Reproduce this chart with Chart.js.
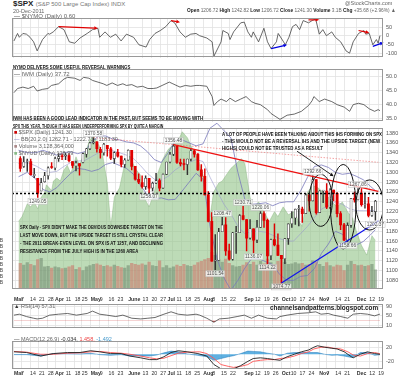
<!DOCTYPE html>
<html>
<head>
<meta charset="utf-8">
<script src="https://cdn.jsdelivr.net/npm/chart.js@4.4.1/dist/chart.umd.min.js"></script>
<style>
  body { margin: 0; width: 400px; height: 377px; overflow: hidden; background: #fff; position: relative; font-family: 'Liberation Sans', Arial, sans-serif; }
  canvas { position: absolute; left: 0; }
  .t { position: absolute; white-space: nowrap; transform-origin: 0 0; line-height: 1; }
  .note { font-weight: bold; font-size: 6px; color: #111; }
  .leg { font-size: 6px; color: #666; }
  .hd b { color: #222; }
</style>
</head>
<body>
<canvas id="nymo" width="400" height="52" style="top:12px"></canvas>
<canvas id="iwm" width="400" height="65" style="top:63px"></canvas>
<canvas id="spx" width="400" height="191" style="top:104px"></canvas>
<canvas id="rsi" width="400" height="38" style="top:296px"></canvas>
<canvas id="macd" width="400" height="42" style="top:335px"></canvas>

<div class="t" style="left:13px;top:0px;font-size:8px;font-weight:bold;color:#222">$SPX <span style="font-size:6px;font-weight:normal;color:#777">(S&amp;P 500 Large Cap Index) INDX</span></div>
<div class="t leg" style="left:13px;top:9px;font-size:5.5px">20-Dec-2011</div>
<div class="t leg" style="left:345px;top:1px;font-size:5.5px">@StockCharts.com</div>
<div class="t leg hd" style="left:187px;top:7px" data-w="209"><b>Open</b> 1206.72 <b>High</b> 1242.82 <b>Low</b> 1206.72 <b>Close</b> 1241.30 <b>Volume</b> 3.1B <b>Chg</b> +35.68 (+2.96%) ▲</div>

<div class="t leg" style="left:14px;top:13px"><span style="color:#333">—</span> $NYMO (Daily) 0.60</div>
<div class="t note" style="left:13px;top:64px" data-w="117">NYMO DELIVERS SOME USEFUL REVERSAL WARNINGS</div>
<div class="t leg" style="left:14px;top:71px"><span style="color:#333">—</span> IWM (Daily) 37.72</div>
<div class="t note" style="left:13px;top:115px" data-w="190">IWM HAS BEEN A GOOD LEAD INDICATOR IN THE PAST, BUT SEEMS TO BE MOVING WITH</div>
<div class="t note" style="left:13px;top:123px" data-w="150">SPX THIS YEAR, THOUGH IT HAS BEEN UNDERPERFORMING SPX BY QUITE A MARGIN</div>

<div class="t leg" style="left:14px;top:130px;font-size:5.5px"><span style="color:#c00">■</span> $SPX (Daily) 1241.30</div>
<div class="t leg" style="left:14px;top:137px;font-size:5.5px"><span style="color:#77b">—</span> BB(20,2.0) 1262.71 - 1222.71 - 1183.30</div>
<div class="t leg" style="left:14px;top:144px;font-size:5.5px"><span style="color:#a88">■</span> Volume 3,128,364,000</div>
<div class="t leg" style="left:14px;top:151px;font-size:5.5px"><span style="color:#8b8">■</span> $NYUD (Daily) 128.99</div>

<div class="t note" style="left:222px;top:131px" data-w="160">A LOT OF PEOPLE HAVE BEEN TALKING ABOUT THIS IHS FORMING ON SPX</div>
<div class="t note" style="left:222px;top:138px" data-w="158">- THIS WOULD NOT BE A REVERSAL IHS AND THE UPSIDE TARGET (NEW</div>
<div class="t note" style="left:222px;top:145px" data-w="101">HIGHS) COULD NOT BE TRUSTED AS A RESULT</div>

<div class="t note" style="left:20px;top:224px" data-w="143">SPX Daily - SPX DIDN'T MAKE THE OBVIOUS DOWNSIDE TARGET ON THE</div>
<div class="t note" style="left:20px;top:232px" data-w="143">LAST MOVE DOWN, BUT THE UPSIDE TARGET IS STILL CRYSTAL CLEAR</div>
<div class="t note" style="left:20px;top:240px" data-w="143">- THE 2011 BREAK-EVEN LEVEL ON SPX IS AT 1257, AND DECLINING</div>
<div class="t note" style="left:20px;top:248px" data-w="118">RESISTANCE FROM THE JULY HIGH IS IN THE 1260 AREA</div>

<div class="t leg" style="left:14px;top:304px;font-size:5.5px"><span style="color:#333">▲</span> RSI(14) 57.31</div>
<div class="t" style="left:270px;top:304px;font-size:8px;font-weight:bold;color:#222" data-w="108">channelsandpatterns.blogspot.com</div>
<div class="t leg" style="left:14px;top:337px;font-size:5.5px"><span style="color:#333">—</span> MACD(12,26,9) <span style="color:#333">-0.034,</span> <span style="color:#e44">1.458,</span> <span style="color:#49c">-1.492</span></div>

<script>
// Time axis: trading-day index counted from 1 Mar 2011
const tickDays = [0, 4, 9, 14, 19, 23, 29, 34, 38, 43, 48, 53, 58, 64, 72, 77, 82, 86, 91, 96, 101,
  106, 111, 116, 121, 129, 135, 140, 145, 150, 155, 160, 165, 171, 175, 180, 185, 192, 199, 204];
const tickLabels = ['Mar', '7', '14', '21', '28', 'Apr', '11', '18', '25', 'May', '9', '16', '23',
  'June', '13', '20', '27', 'Jul', '11', '18', '25', 'Aug', '8', '15', '22', 'Sep', '12', '19', '26',
  'Oct', '10', '17', '24', 'Nov', '7', '14', '21', 'Dec', '12', '19'];

// SPX two-day candles
const barDays = [1, 3, 5, 7, 9, 11, 13, 15, 17, 19, 21, 23, 25, 27, 29, 31, 33, 35, 37, 39, 41,
  43, 45, 47, 49, 51, 53, 55, 57, 59, 61, 63, 65, 67, 69, 71, 73, 75, 77, 79, 81, 83, 85,
  87, 89, 91, 93, 95, 97, 99, 101, 103, 105, 107, 109, 111, 113, 115, 117, 119, 121, 123, 125, 127,
  129, 131, 133, 135, 137, 139, 141, 143, 145, 147, 149, 151, 153, 155, 157, 159, 161, 163, 165, 167, 169,
  171, 173, 175, 177, 179, 181, 183, 185, 187, 189, 191, 193, 195, 197, 199, 201, 203, 205];
const spxOpen = [1328, 1312, 1322, 1322, 1293, 1288, 1262, 1281, 1293, 1311, 1309,
  1328, 1333, 1333, 1334, 1322, 1313, 1318, 1320, 1337, 1348,
  1360, 1362, 1347, 1340, 1355, 1348, 1328, 1341, 1333, 1316, 1325,
  1345, 1312, 1286, 1279, 1271, 1288, 1268, 1278, 1283, 1268, 1296,
  1321, 1337, 1353, 1320, 1317, 1316, 1327, 1344, 1337, 1305,
  1292, 1254, 1200, 1119, 1121, 1179, 1193, 1140, 1123, 1177, 1177,
  1212, 1204, 1166, 1185, 1162, 1188, 1216, 1202, 1130, 1163, 1152,
  1131, 1124, 1165, 1195, 1207, 1225, 1225, 1216, 1254, 1242,
  1285, 1218, 1262, 1262, 1229, 1264, 1257, 1216, 1193, 1162, 1192,
  1247, 1244, 1258, 1234, 1236, 1212, 1220];
const spxHigh = [1332, 1332, 1327, 1327, 1308, 1288, 1288, 1300, 1311, 1320, 1331,
  1338, 1337, 1339, 1338, 1322, 1323, 1318, 1339, 1349, 1361,
  1370.58, 1362, 1351, 1359, 1355, 1351, 1342, 1347, 1333, 1328, 1346,
  1345, 1312, 1297, 1293, 1293, 1288, 1280, 1298, 1287, 1297, 1321,
  1341, 1356.48, 1353, 1327, 1327, 1327, 1347, 1347, 1338, 1316,
  1307, 1261, 1218, 1173, 1186, 1208.47, 1208, 1154, 1178, 1190, 1214,
  1230.71, 1204, 1204, 1185, 1202, 1220.06, 1220, 1205, 1164, 1195, 1175,
  1131, 1165, 1195, 1220, 1225, 1233, 1229, 1256, 1254, 1292.66,
  1285, 1263, 1263, 1277, 1267, 1264, 1259, 1220, 1196, 1197, 1247,
  1260, 1267.06, 1267, 1258, 1249, 1231, 1243];
const spxLow = [1302, 1310, 1302, 1294, 1289, 1249.05, 1262, 1280, 1286, 1308, 1305,
  1322, 1326, 1326, 1321, 1309, 1303, 1294, 1319, 1331, 1346,
  1358, 1341, 1329, 1335, 1333, 1326, 1318, 1331, 1311, 1310, 1325,
  1305, 1284, 1277, 1268, 1265, 1258.07, 1262, 1277, 1262, 1267, 1296,
  1319, 1334, 1318, 1313, 1305, 1295, 1323, 1331, 1304, 1282,
  1254, 1199, 1119, 1101.54, 1121, 1179, 1131, 1121, 1121, 1135, 1177,
  1203, 1140, 1164, 1136.07, 1157, 1188, 1188, 1114.22, 1122, 1150, 1131,
  1074.77, 1114, 1153, 1188, 1194, 1191, 1198, 1216, 1221, 1242,
  1215, 1218, 1238, 1226, 1226, 1242, 1209, 1183, 1161, 1158.66, 1188,
  1239, 1244, 1231, 1227, 1209, 1210, 1202.37];
const spxClose = [1308, 1321, 1322, 1295, 1296, 1257, 1279, 1293, 1309, 1310, 1328,
  1332, 1332, 1333, 1324, 1314, 1319, 1313, 1338, 1348, 1360,
  1361, 1348, 1340, 1357, 1348, 1329, 1340, 1333, 1316, 1325, 1345,
  1312, 1286, 1280, 1271, 1288, 1268, 1278, 1283, 1268, 1296, 1321,
  1337, 1353, 1320, 1317, 1316, 1327, 1344, 1337, 1305, 1292,
  1254, 1200, 1119, 1121, 1179, 1193, 1140, 1123, 1177, 1177, 1212,
  1204, 1166, 1185, 1162, 1188, 1216, 1202, 1130, 1163, 1152, 1131,
  1124, 1165, 1195, 1207, 1225, 1225, 1216, 1254, 1242, 1285,
  1218, 1262, 1262, 1229, 1264, 1257, 1216, 1193, 1162, 1192, 1247,
  1244, 1258, 1234, 1236, 1212, 1220, 1241.30];
// volume, billions of shares
const spxVolume = [4.2, 3.9, 4.3, 4.0, 3.8, 4.8, 5.0, 3.6, 3.7, 3.4, 3.6,
  3.5, 3.3, 3.4, 3.6, 3.8, 3.2, 3.5, 3.0, 3.6, 3.8,
  4.0, 4.1, 3.9, 3.7, 3.8, 3.6, 3.9, 3.7, 3.5, 3.4, 3.8,
  4.2, 4.0, 3.9, 4.1, 3.9, 4.4, 3.8, 3.7, 4.6, 3.5, 3.8,
  3.4, 3.6, 3.9, 3.7, 4.0, 3.8, 3.7, 3.9, 4.3, 4.5,
  4.8, 5.0, 6.0, 5.5, 4.8, 4.4, 4.9, 4.2, 3.8, 3.6, 3.7,
  3.9, 4.3, 4.0, 4.4, 3.9, 4.5, 4.1, 4.9, 4.3, 4.0, 4.5,
  5.0, 4.4, 4.0, 4.1, 4.3, 4.1, 4.2, 3.9, 4.0, 4.6,
  4.4, 4.0, 3.7, 4.3, 3.8, 3.6, 3.9, 3.8, 3.0, 3.9, 4.5,
  4.0, 3.8, 3.9, 3.7, 3.8, 4.0, 3.1];

// Bollinger bands (20, 2.0)
const bbDays = [0, 5, 10, 14, 18, 22, 26, 30, 34, 38, 42, 46, 50, 54, 58, 62, 66, 70, 74, 78, 82, 86,
  90, 94, 98, 102, 106, 110, 114, 118, 122, 126, 130, 134, 138, 142, 146, 150, 154, 158, 162, 166,
  170, 174, 178, 182, 186, 190, 194, 198, 202, 205];
const bbUpper = [1345, 1340, 1340, 1345, 1340, 1335, 1340, 1342, 1338, 1342, 1362, 1374, 1374, 1368,
  1366, 1362, 1360, 1354, 1342, 1326, 1320, 1340, 1365, 1366, 1360, 1354, 1358, 1390, 1400, 1385,
  1370, 1300, 1245, 1235, 1236, 1238, 1232, 1238, 1240, 1240, 1262, 1290, 1312, 1315, 1310, 1300,
  1296, 1298, 1292, 1285, 1272, 1262.71];
const bbMid = [1318, 1320, 1313, 1305, 1300, 1302, 1312, 1320, 1323, 1324, 1332, 1340, 1345, 1344,
  1340, 1335, 1328, 1314, 1298, 1286, 1284, 1292, 1305, 1314, 1320, 1326, 1322, 1290, 1262, 1235,
  1215, 1190, 1175, 1180, 1180, 1178, 1172, 1165, 1160, 1160, 1175, 1190, 1208, 1225, 1232, 1240,
  1235, 1226, 1222, 1222, 1222, 1222.71];
const bbLower = [1291, 1300, 1286, 1265, 1260, 1269, 1284, 1298, 1308, 1306, 1302, 1306, 1316, 1320,
  1314, 1308, 1296, 1274, 1254, 1246, 1248, 1244, 1245, 1262, 1280, 1298, 1286, 1190, 1124, 1085,
  1060, 1080, 1105, 1125, 1124, 1118, 1112, 1092, 1080, 1080, 1088, 1090, 1104, 1135, 1154, 1180,
  1174, 1154, 1152, 1159, 1172, 1183.30];

// green breadth area behind price
const breadthDays = [0, 2, 5, 7, 9, 11, 13, 15, 16, 19, 20, 22, 24, 26, 28, 30, 31, 33, 35, 37, 39, 41,
  43, 46, 48, 51, 53, 55, 58, 61, 64, 67, 70, 72, 75, 78, 80, 83, 86, 89, 92, 94, 97, 100, 103, 106,
  108, 110, 112, 115, 117, 120, 122, 125, 128, 130, 133, 135, 138, 141, 144, 147, 149, 152, 155, 158,
  161, 163, 166, 169, 172, 175, 178, 180, 183, 186, 189, 192, 194, 197, 200, 203, 205];
const breadthVals = [180, 193, 227, 219, 232, 214, 245, 258, 278, 263, 288, 296, 288, 317, 330, 309,
  322, 353, 330, 355, 373, 399, 407, 386, 366, 283, 167, 245, 270, 335, 355, 322, 304, 245, 219, 258,
  309, 348, 373, 386, 399, 420, 404, 373, 348, 304, 245, 193, 258, 283, 288, 309, 322, 335, 348, 335,
  245, 219, 232, 206, 180, 206, 193, 219, 198, 206, 180, 167, 258, 276, 270, 258, 245, 232, 219, 232,
  206, 188, 155, 116, 90, 142, 128.99];

// $NYMO
const nymoDays = [0, 2, 3, 5, 7, 9, 11, 13, 16, 19, 20, 22, 25, 28, 31, 34, 37, 41, 44, 47, 48, 51, 54,
  57, 60, 63, 67, 70, 74, 76, 79, 82, 85, 88, 90, 93, 96, 99, 102, 104, 108, 111, 112, 116, 117, 120,
  121, 123, 127, 129, 131, 133, 134, 137, 140, 142, 144, 147, 148, 151, 152, 154, 156, 158, 160, 162,
  165, 167, 169, 171, 173, 175, 178, 180, 183, 186, 188, 190, 193, 196, 197, 199, 201, 203, 204, 205];
const nymoVals = [-30, 13, -9, 13, 9, -9, -35, -87, -22, 13, 9, 22, 52, 35, -35, -43, -13, 13, 35, 43,
  -9, 22, -9, 9, -30, 9, -9, -52, -65, -22, 13, 30, 52, 87, 74, 22, -9, 9, 13, 0, -13, -35, -117, -35,
  30, 13, -22, 22, 74, 78, 22, -9, 22, -35, 43, -35, -74, -35, 13, -35, -52, -9, 52, 65, 35, 87, 74,
  87, 96, 9, 35, 0, 22, -9, -35, -87, -100, -35, 13, 30, 9, 13, -52, -22, -43, 0.6];

// IWM
const iwmDays = [0, 2, 5, 8, 11, 13, 16, 19, 21, 25, 28, 30, 34, 37, 39, 42, 44, 47, 50, 52, 55, 58,
  61, 63, 66, 69, 72, 75, 78, 80, 83, 87, 89, 93, 96, 99, 102, 104, 108, 111, 112, 114, 116, 119,
  121, 124, 127, 130, 133, 135, 138, 142, 144, 149, 153, 157, 161, 165, 167, 168, 171, 174, 178,
  181, 185, 188, 190, 193, 196, 199, 202, 204, 205];
const iwmVals = [44.2, 45.7, 46.2, 45.7, 46.5, 44.8, 45.4, 45.7, 46.8, 47.4, 49.1, 49.7, 49.4, 48.6,
  49.7, 49.4, 48.6, 48.0, 47.4, 46.8, 47.7, 46.8, 47.4, 46.8, 47.1, 46.2, 46.5, 45.7, 45.7, 45.9,
  46.8, 48.0, 47.4, 46.2, 46.8, 46.5, 46.8, 46.8, 46.5, 42.8, 39.6, 41.0, 41.9, 41.0, 42.2, 41.0,
  41.9, 42.8, 41.0, 40.4, 39.9, 38.1, 36.7, 34.6, 36.1, 36.5, 37.5, 39.6, 41.3, 42.8, 41.0, 41.9,
  41.0, 39.9, 39.0, 37.5, 39.9, 40.4, 39.9, 38.4, 37.5, 38.1, 37.72];

// RSI(14)
const rsiDays = [0, 3, 7, 11, 13, 16, 20, 25, 30, 35, 41, 44, 48, 52, 57, 61, 66, 71, 75, 79, 84, 88,
  92, 97, 102, 104, 108, 112, 115, 120, 125, 129, 133, 137, 142, 147, 149, 153, 159, 165, 169, 172,
  176, 179, 183, 187, 190, 194, 198, 202, 205];
const rsiVals = [53, 57, 47, 40, 37, 40, 53, 57, 60, 53, 60, 70, 57, 53, 47, 53, 40, 37, 40, 43, 57,
  67, 57, 53, 57, 53, 40, 23, 37, 40, 47, 53, 40, 53, 40, 37, 47, 53, 60, 63, 67, 57, 60, 53, 47, 40,
  57, 60, 57, 50, 57.31];

// MACD(12,26,9)
const macdDays = [0, 7, 15, 22, 30, 37, 43, 48, 54, 60, 65, 71, 76, 80, 84, 88, 92, 97, 103, 108, 112,
  116, 120, 123, 127, 131, 134, 138, 142, 146, 149, 153, 157, 161, 165, 168, 170, 174, 178, 181,
  185, 189, 190, 194, 198, 202, 205];
const macdVals = [7, 5, -5, 2, 5, 5, 10, 7, 2, 2, -5, -10, -15, -15, -7, 5, 10, 7, 2, -5, -29, -41,
  -41, -41, -32, -20, -12, -10, -12, -15, -17, -7, 0, 7, 12, 20, 24, 20, 17, 15, 7, -7, -10, 0, 7,
  2, -0.034];
const signalDays = [0, 7, 15, 22, 30, 37, 43, 48, 54, 60, 65, 71, 76, 80, 84, 88, 92, 97, 104, 108,
  112, 116, 120, 123, 127, 131, 134, 138, 142, 146, 149, 153, 157, 161, 165, 168, 172, 176, 179,
  183, 187, 190, 194, 198, 202, 205];
const signalVals = [8, 6, 0, 0, 3, 4, 7, 8, 5, 3, 0, -5, -10, -13, -11, -4, 3, 6, 7, 2, -12, -29,
  -34, -37, -34, -29, -20, -17, -15, -15, -12, -10, -5, 2, 7, 15, 20, 20, 17, 15, 7, -2, -5, 2, 5,
  1.458];
const histVals = [-1, -1, -5, 2, 2, 1, 3, -1, -3, -1, -5, -5, -5, -2, 4, 9, 7, 1, -3, -7, -17, -12,
  -7, -4, 2, 9, 8, 7, 3, 0, -5, 3, 5, 5, 5, 5, 5, 0, -3, -2, -5, -9, -8, 5, 5, -3, -1.492];

// NYMO divergence arrows [fromDay, fromVal, toDay, toVal, colour]
const nymoArrows = [
  [25, 52, 47, 43, '#e00000'], [88, 87, 93, 78, '#e00000'], [165, 91, 171, 91, '#e00000'],
  [193, 30, 199, 17, '#e00000'], [144, -74, 153, -52, '#0000e0'], [201, -61, 207, -39, '#0000e0']
];

// SPX annotations
const breakEven = 1257;
const julyLine = [[89, 1356.48], [168, 1292.66]];
const mayLine = [[43, 1370.58], [89, 1356.48]];
const supportLine = [[151, 1074.77], [188, 1158.66]];
const ihsRings = [[173.6, 1243, 6.7, 53], [186.5, 1230, 7.3, 86], [201.7, 1233.5, 7.9, 51]];
const ihsArrow = [[160, 1343], [181, 1292]];
const priceMarks = [[43, 1370.58, 1], [89, 1356.48, 1], [11, 1249.05, 0], [75, 1258.07, 0],
  [113, 1101.54, 0], [117, 1208.47, 1], [129, 1230.71, 1], [135, 1136.07, 0], [139, 1220.06, 1],
  [143, 1114.22, 0], [151, 1074.77, 0], [169, 1292.66, 1], [189, 1158.66, 0], [195, 1267.06, 1],
  [205, 1202.37, 0]];

const FONT = "'Liberation Sans', Arial, sans-serif";
const X_MIN = -1.1, X_MAX = 206.7;
const monthTicks = tickLabels.map((l, i) => isNaN(l) ? i : -1).filter(i => i >= 0);

function pairs(days, vals) {
  return days.map((d, i) => ({ x: d, y: vals[i] }));
}

function timeAxis(labels, position) {
  return {
    type: 'linear', min: X_MIN, max: X_MAX, position: position || 'bottom',
    afterBuildTicks: s => { s.ticks = tickDays.map(v => ({ value: v })); },
    afterFit: s => { s.height = labels ? 8 : 0; },
    grid: { color: '#e2e2e2', lineWidth: 0.8, drawTicks: false },
    border: { display: false },
    ticks: {
      display: labels, autoSkip: false, maxRotation: 0, minRotation: 0, align: 'start', padding: 1,
      color: '#333',
      font: c => ({ size: 5.2, family: FONT, weight: monthTicks.includes(c.index) ? 'bold' : 'normal' }),
      callback: (v, i) => tickLabels[i]
    }
  };
}

function rightAxis(min, max, ticks, fmt, gridColor) {
  return {
    position: 'right', min: min, max: max,
    afterBuildTicks: s => { s.ticks = ticks.map(v => ({ value: v })); },
    afterFit: s => { s.width = 17; },
    grid: { color: gridColor || '#e2e2e2', lineWidth: 0.8, drawTicks: false },
    border: { display: false },
    ticks: { padding: 3, color: '#555', font: { size: 5.5, family: FONT }, callback: fmt || (v => v) }
  };
}

function options(scales, padding) {
  return {
    responsive: false, animation: false, events: [],
    layout: { padding: padding },
    plugins: { legend: { display: false }, tooltip: { enabled: false } },
    scales: scales
  };
}

// grey border round each panel
const frame = {
  id: 'frame',
  afterDraw(chart) {
    const { ctx, chartArea: a } = chart;
    ctx.save();
    ctx.strokeStyle = '#999';
    ctx.lineWidth = 1;
    ctx.strokeRect(Math.round(a.left) + 0.5, Math.round(a.top) + 0.5, Math.round(a.width) - 1, Math.round(a.height) - 1);
    ctx.restore();
  }
};

function drawArrow(ctx, x1, y1, x2, y2, color, width, head) {
  const ang = Math.atan2(y2 - y1, x2 - x1);
  ctx.save();
  ctx.strokeStyle = color;
  ctx.fillStyle = color;
  ctx.lineWidth = width;
  ctx.beginPath();
  ctx.moveTo(x1, y1);
  ctx.lineTo(x2 - Math.cos(ang) * head * 0.8, y2 - Math.sin(ang) * head * 0.8);
  ctx.stroke();
  ctx.beginPath();
  ctx.moveTo(x2, y2);
  ctx.lineTo(x2 - head * Math.cos(ang - 0.45), y2 - head * Math.sin(ang - 0.45));
  ctx.lineTo(x2 - head * Math.cos(ang + 0.45), y2 - head * Math.sin(ang + 0.45));
  ctx.closePath();
  ctx.fill();
  ctx.restore();
}

const nymoMarks = {
  id: 'nymoMarks',
  afterDatasetsDraw(chart) {
    const { ctx, scales: { x, y } } = chart;
    nymoArrows.forEach(a => {
      drawArrow(ctx, x.getPixelForValue(a[0]), y.getPixelForValue(a[1]),
        x.getPixelForValue(a[2]), y.getPixelForValue(a[3]), a[4], 1.2, 4);
    });
  }
};

function extendTo(line, day) {
  const [[d1, v1], [d2, v2]] = line;
  return v1 + (v2 - v1) / (d2 - d1) * (day - d1);
}

const spxMarks = {
  id: 'spxMarks',
  afterDatasetsDraw(chart) {
    const { ctx, chartArea: a, scales: { x, y } } = chart;
    ctx.save();
    ctx.beginPath();
    ctx.rect(a.left, a.top, a.width, a.height);
    ctx.clip();

    const seg = (line, color, width, dash) => {
      ctx.beginPath();
      ctx.strokeStyle = color;
      ctx.lineWidth = width;
      ctx.setLineDash(dash || []);
      ctx.moveTo(x.getPixelForValue(line[0][0]), y.getPixelForValue(line[0][1]));
      ctx.lineTo(x.getPixelForValue(X_MAX), y.getPixelForValue(extendTo(line, X_MAX)));
      ctx.stroke();
    };
    seg(mayLine, 'rgba(240,110,110,0.8)', 0.8, [1.5, 1.5]);
    seg(julyLine, '#ee1111', 1.2);
    seg(supportLine, '#1111ee', 1.2);

    ctx.beginPath();
    ctx.strokeStyle = '#000';
    ctx.lineWidth = 1.6;
    ctx.setLineDash([2, 2]);
    ctx.moveTo(a.left, y.getPixelForValue(breakEven));
    ctx.lineTo(a.right, y.getPixelForValue(breakEven));
    ctx.stroke();
    ctx.setLineDash([]);

    ihsRings.forEach(r => {
      const cx = x.getPixelForValue(r[0]), cy = y.getPixelForValue(r[1]);
      const rx = x.getPixelForValue(r[0] + r[2]) - cx, ry = cy - y.getPixelForValue(r[1] + r[3]);
      ctx.beginPath();
      ctx.strokeStyle = '#111';
      ctx.lineWidth = 1;
      ctx.ellipse(cx, cy, rx, ry, 0, 0, Math.PI * 2);
      ctx.stroke();
    });
    ctx.restore();

    drawArrow(ctx, x.getPixelForValue(ihsArrow[0][0]), y.getPixelForValue(ihsArrow[0][1]),
      x.getPixelForValue(ihsArrow[1][0]), y.getPixelForValue(ihsArrow[1][1]), '#111', 0.9, 4);

    ctx.save();
    ctx.font = '4.8px ' + FONT;
    ctx.textAlign = 'center';
    ctx.textBaseline = 'middle';
    priceMarks.forEach(m => {
      const px = x.getPixelForValue(m[0]);
      const py = y.getPixelForValue(m[1]) + (m[2] ? -4 : 4);
      const w = ctx.measureText(m[1].toFixed(2)).width + 2;
      ctx.fillStyle = 'rgba(255,255,255,0.75)';
      ctx.fillRect(px - w / 2, py - 3, w, 6);
      ctx.strokeStyle = '#bbb';
      ctx.lineWidth = 0.5;
      ctx.strokeRect(px - w / 2, py - 3, w, 6);
      ctx.fillStyle = '#555';
      ctx.fillText(m[1].toFixed(2), px, py);
    });
    ctx.restore();
  }
};

// NYMO panel
new Chart(document.getElementById('nymo'), {
  type: 'line',
  data: { datasets: [{ data: pairs(nymoDays, nymoVals), borderColor: '#444', borderWidth: 0.8, pointRadius: 0 }] },
  options: options({ x: timeAxis(false), y: rightAxis(-126, 100, [50, 0, -50, -100]) }, { left: 12 }),
  plugins: [frame, nymoMarks]
});

// IWM panel
new Chart(document.getElementById('iwm'), {
  type: 'line',
  data: { datasets: [{ data: pairs(iwmDays, iwmVals), borderColor: '#444', borderWidth: 0.8, pointRadius: 0 }] },
  options: options({
    x: timeAxis(false),
    y: rightAxis(33.77, 52.6, [50, 47.5, 45, 42.5, 40, 37.5, 35], v => v.toFixed(1))
  }, { left: 12 }),
  plugins: [frame]
});

// SPX price panel
const isDown = barDays.map((d, i) => spxClose[i] < spxOpen[i]);
const bandClip = { left: 0, top: 24, right: 0, bottom: 0 };
const spxScales = {
  x: timeAxis(false),
  y: rightAxis(1063, 1390.3, [1380, 1360, 1340, 1320, 1300, 1280, 1260, 1240, 1220, 1200, 1180, 1160, 1140, 1120, 1100, 1080]),
  vol: {
    position: 'left', min: 0, max: 26.5,
    afterBuildTicks: s => { s.ticks = [1, 2, 3, 4, 5, 6, 7, 8].map(v => ({ value: v })); },
    afterFit: s => { s.width = 12; },
    grid: { display: false },
    border: { display: false },
    ticks: { padding: 1, color: '#444', font: { size: 5, family: FONT }, callback: v => v + 'B' }
  },
  grn: { display: false, min: 0, max: 430 }
};
new Chart(document.getElementById('spx'), {
  type: 'bar',
  data: {
    datasets: [
      { type: 'line', yAxisID: 'grn', data: pairs(breadthDays, breadthVals), fill: 'start',
        backgroundColor: 'rgba(145,195,135,0.6)', borderColor: 'rgba(120,170,110,0.7)', borderWidth: 0.5,
        pointRadius: 0, order: 10 },
      { yAxisID: 'vol', data: pairs(barDays, spxVolume), grouped: false, barThickness: 2.6,
        backgroundColor: isDown.map(d => d ? 'rgba(205,110,100,0.55)' : 'rgba(110,135,110,0.55)'), order: 9 },
      { type: 'line', yAxisID: 'y', data: pairs(bbDays, bbUpper), borderColor: '#7878bb', borderWidth: 0.8,
        pointRadius: 0, clip: bandClip, order: 5 },
      { type: 'line', yAxisID: 'y', data: pairs(bbDays, bbMid), borderColor: '#9999cc', borderWidth: 0.6,
        pointRadius: 0, order: 5 },
      { type: 'line', yAxisID: 'y', data: pairs(bbDays, bbLower), borderColor: '#7878bb', borderWidth: 0.8,
        pointRadius: 0, clip: bandClip, order: 5 },
      { yAxisID: 'y', data: barDays.map((d, i) => ({ x: d, y: [spxLow[i], spxHigh[i]] })), grouped: false,
        barThickness: 0.8, backgroundColor: isDown.map(d => d ? '#dd0000' : '#333'), order: 2 },
      { yAxisID: 'y', data: barDays.map((d, i) => ({ x: d, y: [spxOpen[i], spxClose[i]] })), grouped: false,
        barThickness: 2.2, minBarLength: 0.8, borderSkipped: false,
        backgroundColor: isDown.map(d => d ? '#e00000' : '#ffffff'),
        borderColor: isDown.map(d => d ? '#e00000' : '#333'),
        borderWidth: isDown.map(d => d ? 0 : 0.6), order: 1 }
    ]
  },
  options: options(spxScales, { top: 24, left: 0 }),
  plugins: [frame, spxMarks]
});

// RSI panel (date labels on top)
new Chart(document.getElementById('rsi'), {
  type: 'line',
  data: { datasets: [{ data: pairs(rsiDays, rsiVals), borderColor: '#444', borderWidth: 0.8, pointRadius: 0,
    fill: { target: { value: 30 }, above: 'rgba(0,0,0,0)', below: 'rgba(200,30,30,0.8)' } }] },
  options: options({
    x: timeAxis(true, 'top'),
    y: Object.assign(rightAxis(0, 100, [90, 70, 50, 30, 10]), {
      grid: { drawTicks: false, lineWidth: 0.8, color: c => (c.tick.value === 70 || c.tick.value === 30) ? '#9a9a9a' : '#e2e2e2' }
    })
  }, { left: 12 }),
  plugins: [frame]
});

// MACD panel (date labels underneath)
new Chart(document.getElementById('macd'), {
  type: 'line',
  data: { datasets: [
    { data: pairs(macdDays, histVals), borderColor: 'rgba(20,110,180,0.9)', borderWidth: 0.5,
      backgroundColor: 'rgba(40,150,215,0.75)', fill: 'origin', pointRadius: 0, order: 3 },
    { data: pairs(signalDays, signalVals), borderColor: '#ff5555', borderWidth: 0.9, pointRadius: 0, order: 2 },
    { data: pairs(macdDays, macdVals), borderColor: '#222', borderWidth: 0.9, pointRadius: 0, order: 1 }
  ] },
  options: options({ x: timeAxis(true), y: rightAxis(-41.5, 36.6, [20, 0, -20, -40]) }, { left: 12 }),
  plugins: [frame]
});

// squeeze annotation lines to their widths in the original
document.querySelectorAll('[data-w]').forEach(el => {
  el.style.transform = 'scaleX(' + (el.dataset.w / el.offsetWidth) + ')';
});
</script>
</body>
</html>
